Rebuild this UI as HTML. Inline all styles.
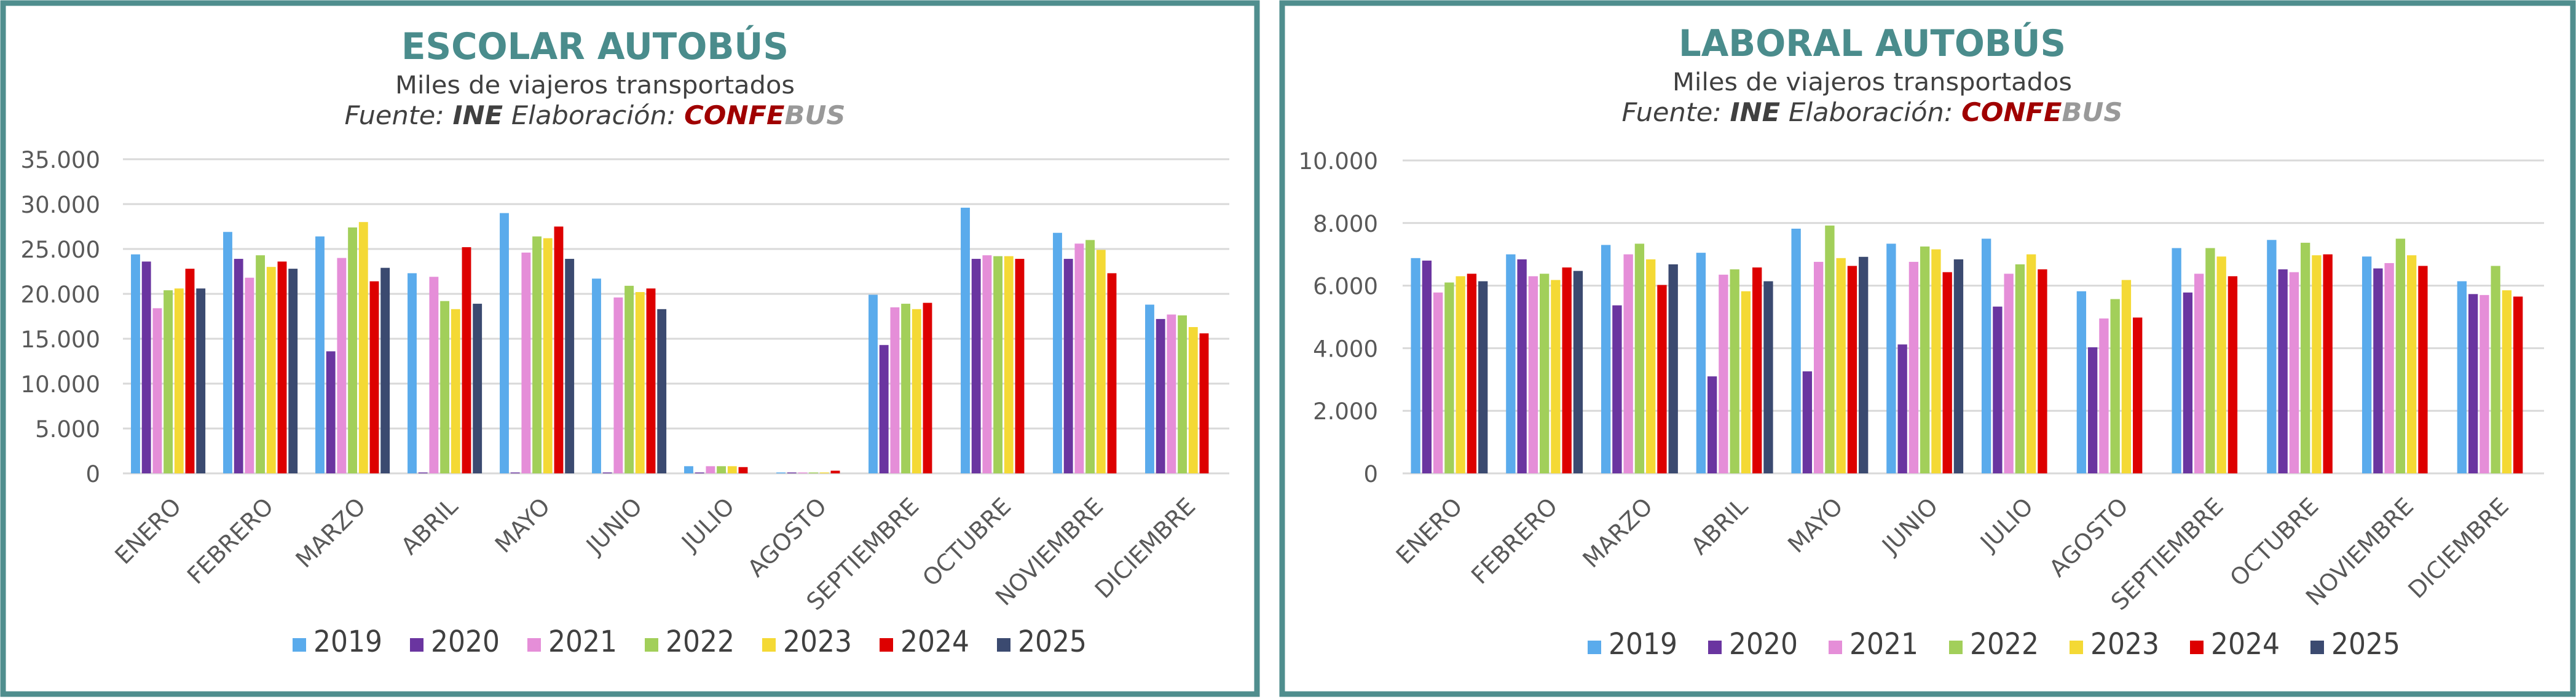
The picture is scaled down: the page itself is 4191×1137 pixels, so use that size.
<!DOCTYPE html>
<html><head><meta charset="utf-8"><style>
html,body{margin:0;padding:0;background:#fff;}
svg{display:block;}
text{font-family:"DejaVu Sans","Liberation Sans",sans-serif;}
</style></head><body>
<svg id="s" width="4191" height="1137" viewBox="0 0 4191 1137" xmlns="http://www.w3.org/2000/svg">
<rect x="0" y="0" width="4191" height="1137" fill="#fff"/>
<rect x="5" y="5" width="2040" height="1124" fill="none" stroke="#4f8e8e" stroke-width="9"/>
<rect x="2086" y="5" width="2100" height="1124" fill="none" stroke="#4f8e8e" stroke-width="9"/>
</svg>
<script>
const S=document.getElementById('s');const NS='http://www.w3.org/2000/svg';
function el(t,a,txt,p){const e=document.createElementNS(NS,t);for(const k in a)e.setAttribute(k,a[k]);if(txt!=null)e.textContent=txt;(p||S).appendChild(e);return e;}
const cols=['#5aabec','#6a35a0','#e58ed8','#a2cf5a','#f4d935','#dd0000','#3b4a70'];
const months=['ENERO','FEBRERO','MARZO','ABRIL','MAYO','JUNIO','JULIO','AGOSTO','SEPTIEMBRE','OCTUBRE','NOVIEMBRE','DICIEMBRE'];
function chart(o){
 el('text',{x:o.cx,y:o.ty,'text-anchor':'middle','font-size':60,'font-weight':'bold',fill:'#4a8c8c',textLength:630,lengthAdjust:'spacingAndGlyphs'},o.title);
 el('text',{x:o.cx,y:o.ty+56,'text-anchor':'middle','font-size':40,fill:'#404040',textLength:650,lengthAdjust:'spacingAndGlyphs'},'Miles de viajeros transportados');
 const t=el('text',{x:o.cx,y:o.ty+106,'text-anchor':'middle','font-size':42,'font-style':'italic',fill:'#404040',textLength:815,lengthAdjust:'spacingAndGlyphs'});
 t.innerHTML='Fuente: <tspan font-weight="bold">INE</tspan>  Elaboración: <tspan font-weight="bold" fill="#a00000">CONFE</tspan><tspan font-weight="bold" fill="#999">BUS</tspan>';
 const y0=770,yt=o.ytop,h=y0-yt;
 for(let i=0;i<=o.n;i++){const y=y0-h*i/o.n;
  el('line',{x1:o.x0,x2:o.x1,y1:y,y2:y,stroke:'#d9d9d9','stroke-width':3});
  const v=o.step*i;const lab=v===0?'0':(v/1000).toFixed(3);
  el('text',{x:o.lx,y:y+14,'text-anchor':'end','font-size':37,fill:'#595959'},lab);}
 const cw=(o.x1-o.x0)/12,bs=cw*0.118,bw=bs*0.84;
 o.data.forEach((g,m)=>{const gx=o.x0+cw*m+cw/2-bs*3.5;
  g.forEach((v,k)=>{if(v==null)return;const bh=v/(o.step*o.n)*h;
   el('rect',{x:gx+k*bs,y:y0-bh,width:bw,height:Math.max(bh,0),fill:cols[k]});});
  const cx=o.x0+cw*m+cw/2+22,cy=826;
  const g2=el('g',{transform:`matrix(0.7071 -0.7071 0.7071 0.7071 ${cx} ${cy})`});
  el('text',{x:0,y:0,'text-anchor':'end','font-size':38,fill:'#595959'},months[m],g2);});
 ['2019','2020','2021','2022','2023','2024','2025'].forEach((y,k)=>{const x=o.legx+k*o.legs;
  el('rect',{x:x,y:o.legy-34,width:22,height:22,fill:cols[k]});
  el('text',{x:x+34,y:o.legy-12,'font-size':48,fill:'#404040',textLength:112,lengthAdjust:'spacingAndGlyphs'},y);});
}
const E=[[24.4,23.6,18.4,20.4,20.6,22.8,20.6],[26.9,23.9,21.8,24.3,23.0,23.6,22.8],[26.4,13.6,24.0,27.4,28.0,21.4,22.9],[22.3,0.1,21.9,19.2,18.3,25.2,18.9],[29.0,0.1,24.6,26.4,26.2,27.5,23.9],[21.7,0.1,19.6,20.9,20.2,20.6,18.3],[0.8,0.1,0.8,0.8,0.8,0.7,null],[0.1,0.1,0.1,0.1,0.1,0.3,null],[19.9,14.3,18.5,18.9,18.3,19.0,null],[29.6,23.9,24.3,24.2,24.2,23.9,null],[26.8,23.9,25.6,26.0,24.9,22.3,null],[18.8,17.2,17.7,17.6,16.3,15.6,null]].map(r=>r.map(v=>v==null?null:v*1000));
const L=[[6.88,6.8,5.78,6.1,6.3,6.38,6.14],[7.0,6.84,6.3,6.38,6.18,6.58,6.47],[7.3,5.37,7.0,7.34,6.84,6.02,6.68],[7.05,3.1,6.35,6.52,5.82,6.58,6.14],[7.82,3.26,6.76,7.92,6.88,6.63,6.92],[7.34,4.12,6.76,7.25,7.16,6.43,6.84],[7.5,5.33,6.38,6.68,7.0,6.52,null],[5.82,4.03,4.95,5.57,6.18,4.98,null],[7.2,5.78,6.38,7.2,6.93,6.3,null],[7.46,6.52,6.43,7.37,6.97,7.0,null],[6.93,6.55,6.72,7.5,6.97,6.63,null],[6.14,5.73,5.7,6.63,5.85,5.65,null]].map(r=>r.map(v=>v==null?null:v*1000));
chart({title:'ESCOLAR AUTOBÚS',cx:968,ty:96,x0:200,x1:2000,lx:163,ytop:259,n:7,step:5000,data:E,legx:476,legs:191,legy:1072});
chart({title:'LABORAL AUTOBÚS',cx:3046,ty:91,x0:2282,x1:4139,lx:2242,ytop:261,n:5,step:2000,data:L,legx:2583,legs:196,legy:1076});
</script>
</body></html>
